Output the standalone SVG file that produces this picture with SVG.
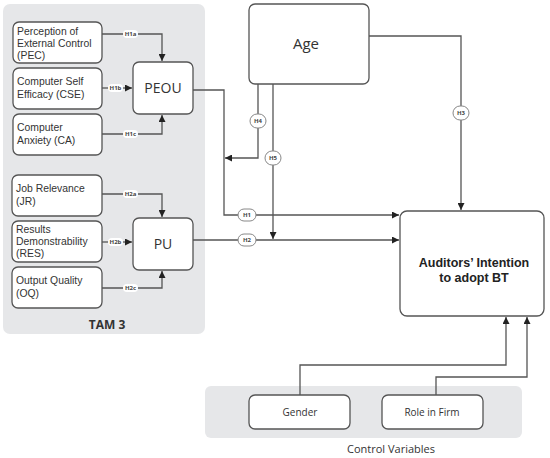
<svg xmlns="http://www.w3.org/2000/svg" width="550" height="458" viewBox="0 0 550 458">
<defs>
<style>
.panel{fill:#e6e7e9;}
.box{fill:#fff;stroke:#555;stroke-width:1.3;}
.t{font-family:"Open Sans","Liberation Sans",sans-serif;font-size:11px;fill:#333;}
.m{font-family:"Liberation Sans",Arial,sans-serif;font-size:10.4px;fill:#333;}
.c{text-anchor:middle;}
.ln{fill:none;stroke:#555;stroke-width:1.3;}
.pill{fill:#fff;stroke:#888;stroke-width:1;}
.pw{fill:#fff;}
.lab{font-family:"Open Sans","Liberation Sans",sans-serif;font-size:6px;fill:#444;text-anchor:middle;font-weight:bold;}
</style>
<marker id="ar" viewBox="0 0 10 10" refX="10" refY="5" markerWidth="7" markerHeight="7" markerUnits="userSpaceOnUse" orient="auto"><path d="M0,0L10,5L0,10z" fill="#222"/></marker>
</defs>
<rect width="550" height="458" fill="#fff"/>
<rect class="panel" x="3" y="4" width="202" height="330" rx="7"/>
<rect class="panel" x="205" y="386" width="317" height="52" rx="6"/>
<g id="connectors">
<path class="ln" d="M102,34H162V61" marker-end="url(#ar)"/>
<path class="ln" d="M102,88H132" marker-end="url(#ar)"/>
<path class="ln" d="M102,134H162V115" marker-end="url(#ar)"/>
<path class="ln" d="M102,194H162V217" marker-end="url(#ar)"/>
<path class="ln" d="M102,242H132" marker-end="url(#ar)"/>
<path class="ln" d="M102,288H162V271" marker-end="url(#ar)"/>
<path class="ln" d="M193,90H224V215H399" marker-end="url(#ar)"/>
<path class="ln" d="M193,240H399" marker-end="url(#ar)"/>
<path class="ln" d="M258,84V158H225" marker-end="url(#ar)"/>
<path class="ln" d="M273,84V239" marker-end="url(#ar)"/>
<path class="ln" d="M369,36H461V210" marker-end="url(#ar)"/>
<path class="ln" d="M300,395V365H506V317" marker-end="url(#ar)"/>
<path class="ln" d="M436,395V377H527V317" marker-end="url(#ar)"/>
<rect class="pw" x="123" y="30" width="15" height="8" rx="4"/><text class="lab" x="130.5" y="36">H1a</text>
<rect class="pw" x="108" y="84" width="15" height="8" rx="4"/><text class="lab" x="115.5" y="90">H1b</text>
<rect class="pw" x="123" y="130" width="15" height="8" rx="4"/><text class="lab" x="130.5" y="136">H1c</text>
<rect class="pw" x="123" y="190" width="15" height="8" rx="4"/><text class="lab" x="130.5" y="196">H2a</text>
<rect class="pw" x="108" y="238" width="15" height="8" rx="4"/><text class="lab" x="115.5" y="244">H2b</text>
<rect class="pw" x="123" y="284" width="15" height="8" rx="4"/><text class="lab" x="130.5" y="290">H2c</text>
<rect class="pill" x="250" y="114" width="16" height="14" rx="7"/><text class="lab" x="258" y="123">H4</text>
<rect class="pill" x="265" y="151" width="16" height="14" rx="7"/><text class="lab" x="273" y="160">H5</text>
<rect class="pill" x="453" y="106" width="16" height="14" rx="7"/><text class="lab" x="461" y="115">H3</text>
<rect class="pill" x="238" y="209" width="18" height="12" rx="6"/><text class="lab" x="247" y="217">H1</text>
<rect class="pill" x="238" y="234" width="18" height="12" rx="6"/><text class="lab" x="247" y="242">H2</text>
</g>
<g id="pec"><rect class="box" x="13" y="22" width="89" height="41" rx="6"/><text class="m" x="17" y="35">Perception of</text><text class="m" x="17" y="47">External Control</text><text class="m" x="17" y="59">(PEC)</text></g>
<g id="cse"><rect class="box" x="13" y="68" width="89" height="41" rx="6"/><text class="m" x="17" y="85">Computer Self</text><text class="m" x="17" y="98">Efficacy (CSE)</text></g>
<g id="ca"><rect class="box" x="13" y="114" width="89" height="41" rx="6"/><text class="m" x="17" y="131">Computer</text><text class="m" x="17" y="144">Anxiety (CA)</text></g>
<g id="peou"><rect class="box" x="133" y="62" width="60" height="52" rx="6"/><text class="t c" x="163" y="93" style="font-size:14px">PEOU</text></g>
<g id="jr"><rect class="box" x="12" y="175" width="90" height="41" rx="6"/><text class="m" x="16" y="192">Job Relevance</text><text class="m" x="16" y="205">(JR)</text></g>
<g id="res"><rect class="box" x="12" y="221" width="90" height="41" rx="6"/><text class="m" x="16" y="233">Results</text><text class="m" x="16" y="245">Demonstrability</text><text class="m" x="16" y="257">(RES)</text></g>
<g id="oq"><rect class="box" x="12" y="267" width="90" height="41" rx="6"/><text class="m" x="16" y="284">Output Quality</text><text class="m" x="16" y="297">(OQ)</text></g>
<g id="pu"><rect class="box" x="133" y="218" width="60" height="52" rx="6"/><text class="t c" x="163" y="249" style="font-size:14px">PU</text></g>
<text class="t c" x="107" y="329" style="font-weight:bold;font-size:12px">TAM 3</text>
<g id="age"><rect class="box" x="249" y="4" width="120" height="80" rx="6"/><text class="t c" x="306" y="49" style="font-size:15px">Age</text></g>
<g id="target"><rect class="box" x="400" y="211" width="144" height="105" rx="7"/><text class="m c" x="474" y="267" style="font-weight:bold;font-size:12.5px;fill:#222">Auditors’ Intention</text><text class="m c" x="474" y="282" style="font-weight:bold;font-size:12.5px;fill:#222">to adopt BT</text></g>
<g id="gender"><rect class="box" x="249" y="395" width="101" height="34" rx="6"/><text class="t c" x="300" y="416" style="font-size:10px">Gender</text></g>
<g id="role"><rect class="box" x="382" y="395" width="101" height="34" rx="6"/><text class="t c" x="432" y="416" style="font-size:10px">Role in Firm</text></g>
<text class="t c" x="391" y="453">Control Variables</text>
</svg>
